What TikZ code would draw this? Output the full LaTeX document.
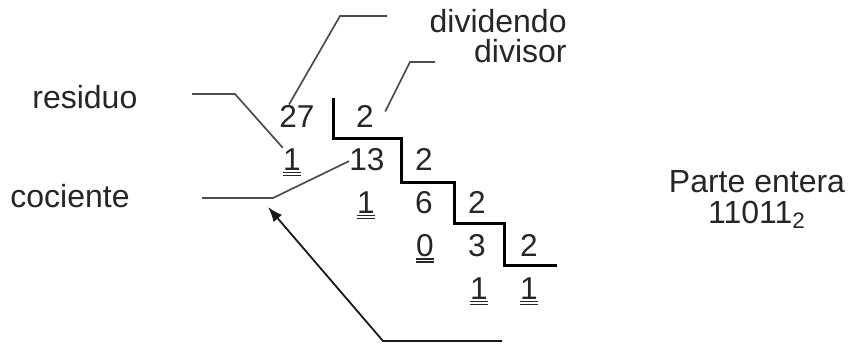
\documentclass[tikz,border=0pt]{standalone}
\usepackage{fontspec}
\setmainfont{Liberation Sans}
\usetikzlibrary{arrows.meta}
\newcommand{\resto}[1]{\vtop{\hbox{#1}\kern0.8pt\hrule height 0.8pt\kern0.7pt\hrule height 0.8pt}}

\begin{document}
\begin{tikzpicture}[
  x=0.5pt, y=-0.5pt,
  >={Latex[length=7.5pt,width=5.5pt]},
  num/.style={anchor=base, inner sep=0pt, text=black!85,
              font=\fontsize{15.8}{18}\selectfont},
  lbl/.style={inner sep=0pt, text=black!85, font=\fontsize{16}{15.5}\selectfont},
  lead/.style={draw=black!70, line width=0.85pt},
  stair/.style={draw=black, line width=1.5pt},
  arr/.style={->, draw=black!90, line width=0.9pt},
]
\useasboundingbox (0,0) rectangle (851,343);

% Division steps (row by row)
\node[num] (n27) at (297,127) {27};
\node[num] (n2a) at (365,127) {2};
\node[num] (r1a) at (292,170) {\resto{1}};
\node[num] (n13) at (367,170) {13};
\node[num] (n2b) at (424,170) {2};
\node[num] (r1b) at (366,213) {\resto{1}};
\node[num] (n6)  at (424,213) {6};
\node[num] (n2c) at (477,213) {2};
\node[num] (r0)  at (425,256) {\resto{0}};
\node[num] (n3)  at (477,256) {3};
\node[num] (n2d) at (529,256) {2};
\node[num] (r1c) at (479,299) {\resto{1}};
\node[num] (q1)  at (529,299) {\resto{1}};

% Stair of the divisions
\draw[stair] (333,98) -- (333,138) -- (401,138) -- (401,182) -- (454,182)
  -- (454,223) -- (504,223) -- (504,265) -- (557,265);

% Labels
\node[lbl, anchor=base east] (dividendo) at (567,32) {dividendo};
\node[lbl, anchor=base east] (divisor) at (567,62) {divisor};
\node[lbl, anchor=base west] (residuo) at (32,108) {residuo};
\node[lbl, anchor=base west] (cociente) at (10,207) {cociente};
\node[lbl, anchor=north, align=center] (parte) at (757,170)
  {Parte entera\\11011\textsubscript{2}};

% Free ends of the leaders
\coordinate (dvd) at (387,16);
\coordinate (dvs) at (435,62);
\coordinate (res) at (192,94);
\coordinate (coc) at (202,198);
\coordinate (tip) at (268,207);
\coordinate (base) at (502,341);

% Leaders
\draw[lead] (dvd) -- ++(-47,0) -- ([xshift=-4]n27.north);
\draw[lead] (dvs) -- ++(-25,0) -- ([shift={(11,7)}]n2a.north east);
\draw[lead] (res) -- ++(43,0) -- (r1a.north west);
\draw[lead] (coc) -- ++(71,0) -- ([yshift=-1]n13.west);

% Arrow to the quotient line
\draw[arr] (base) -- ++(-119,0) -- (tip);

\end{tikzpicture}
\end{document}
